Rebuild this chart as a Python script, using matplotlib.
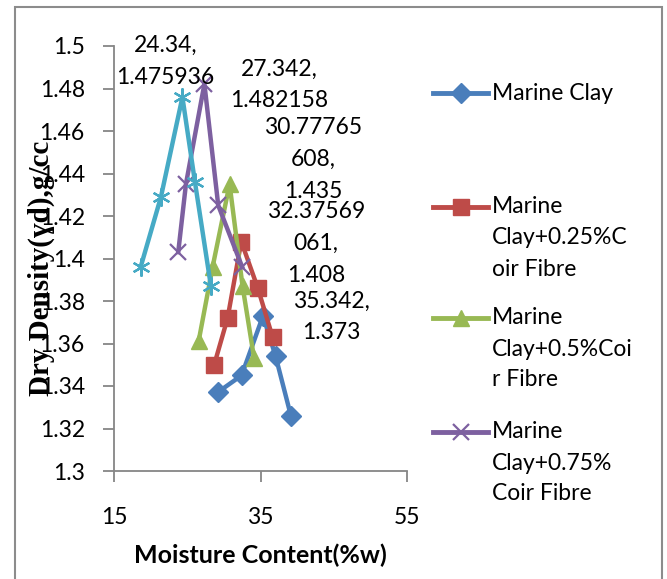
import matplotlib
matplotlib.use("Agg")
import matplotlib.pyplot as plt
from matplotlib.lines import Line2D
from matplotlib.patches import Rectangle
from matplotlib.ticker import FuncFormatter, MultipleLocator, FixedLocator

plt.rcParams['font.family'] = ['Lato', 'DejaVu Sans']

# moisture content (%w) and dry density (g/cc)
mc_x = [29.15, 32.42, 35.342, 37.06, 39.15]
mc_y = [1.337, 1.345, 1.373, 1.354, 1.326]
f025_x = [28.68, 30.51, 32.37569061, 34.64, 36.65]
f025_y = [1.350, 1.372, 1.408, 1.386, 1.363]
f05_x = [26.55, 28.46, 30.77765608, 32.55, 34.13]
f05_y = [1.361, 1.396, 1.435, 1.387, 1.353]
f075_x = [23.77, 24.82, 27.342, 29.23, 32.50]
f075_y = [1.403, 1.435, 1.482158, 1.425, 1.396]
f1_x = [18.64, 21.41, 24.34, 26.05, 28.23]
f1_y = [1.396, 1.429, 1.475936, 1.436, 1.387]

x_ticks = [15, 35, 55]

names = ["Marine Clay", "Marine\nClay+0.25%C\noir Fibre",
         "Marine\nClay+0.5%Coi\nr Fibre", "Marine\nClay+0.75%\nCoir Fibre", "Series5"]
colors = ["#4A7EBB", "#BE4B48", "#98B954", "#7D60A0", "#46AAC5"]
star = (6, 2, 0)
markers = ["D", "s", "^", "x", star]
msizes = [10, 12, 12, 12, 13]

# peak labels (index of peak point, text, offset in pixels)
peak_idx = 2
label_txt = ["35.342,\n1.373", "32.37569\n061,\n1.408", "30.77765\n608,\n1.435",
             "27.342,\n1.482158", "24.34,\n1.475936"]
label_off = [(68, -1), (75, -2), (84, 25), (75, -1), (-17, 36)]

xs = [mc_x, f025_x, f05_x, f075_x, f1_x]
ys = [mc_y, f025_y, f05_y, f075_y, f1_y]

W, H = 667, 579
fig = plt.figure(figsize=(W / 100, H / 100), dpi=100)
ax = fig.add_axes([114 / W, 1 - 471 / H, (407 - 114) / W, (471 - 46) / H])

for i in range(5):
    mew = 1.6 if markers[i] in ("x", star) else 1.0
    ax.plot(xs[i], ys[i], color=colors[i], lw=3.2, marker=markers[i],
            ms=msizes[i], mec=colors[i], mfc=colors[i], mew=mew,
            clip_on=False, zorder=3 + i)
    ax.annotate(label_txt[i], (xs[i][peak_idx], ys[i][peak_idx]),
                xytext=label_off[i], textcoords='offset pixels',
                ha='center', va='center', fontsize=16.5, linespacing=1.65,
                annotation_clip=False, zorder=20)

ax.set_xlim(15, 55)
ax.set_ylim(1.3, 1.5)
ax.xaxis.set_major_locator(FixedLocator(x_ticks))
ax.yaxis.set_major_locator(MultipleLocator(0.02))
ax.yaxis.set_major_formatter(FuncFormatter(lambda v, p: f"{round(v, 2):g}"))
ax.xaxis.set_major_formatter(FuncFormatter(lambda v, p: f"{v:g}"))

gray = "#868686"
for s in ("top", "right"):
    ax.spines[s].set_visible(False)
for s in ("left", "bottom"):
    ax.spines[s].set_color(gray)
    ax.spines[s].set_linewidth(1.3)
ax.tick_params(axis='both', direction='out', length=8, width=1.3, color=gray,
               labelsize=16.5, labelcolor='black')
ax.tick_params(axis='y', pad=13)
ax.tick_params(axis='x', pad=18)

ax.set_xlabel("Moisture Content(%w)", fontsize=18, fontweight='bold', labelpad=11)
fig.text(41 / W, 1 - 268 / H, "Dry Density(ɣd),g/cc", rotation=90,
         ha='center', va='center', fontsize=21, fontweight='bold',
         family=['Liberation Serif', 'DejaVu Serif'])

# legend drawn by hand, Excel style
leg_rows = [93, 207, 318, 432]
for i in range(4):
    yy = 1 - leg_rows[i] / H
    fig.add_artist(Line2D([433 / W, 488 / W], [yy, yy], transform=fig.transFigure,
                          color=colors[i], lw=3.5))
    fig.add_artist(Line2D([461 / W], [yy], transform=fig.transFigure,
                          marker=markers[i], ms=msizes[i], color=colors[i],
                          mew=1.6 if markers[i] == "x" else 1.0))
    for j, line in enumerate(names[i].split("\n")):
        fig.text(492 / W, 1 - (leg_rows[i] + 31 * j) / H, line,
                 ha='left', va='center', fontsize=16.5)

fig.add_artist(Rectangle((15 / W, -0.05), (662 - 15) / W, 1.05 - 7 / H,
                         transform=fig.transFigure, fill=False,
                         edgecolor="#8c8c8c", lw=1.5))

fig.savefig("out.png", dpi=100)
